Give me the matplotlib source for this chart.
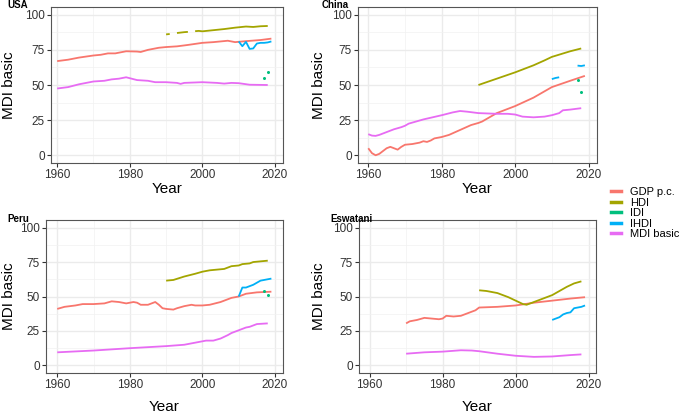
import numpy as np
import matplotlib.pyplot as plt
from matplotlib.lines import Line2D

plt.rcParams["font.family"] = ["Liberation Sans", "DejaVu Sans"]

nan = np.nan

SERIES = ["GDP p.c.", "HDI", "IDI", "IHDI", "MDI basic"]
COLORS = ["#F8766D", "#A3A500", "#00BF7D", "#00B0F6", "#E76BF3"]

# ── Data (year, value) ────────────────────────────────────────────────────────
usa_gdp = [(1960, 67), (1963, 68), (1966, 69.5), (1970, 71), (1972, 71.5), (1974, 72.5),
           (1976, 72.5), (1979, 74), (1982, 73.8), (1983, 73.5), (1985, 75), (1988, 76.5),
           (1990, 77), (1993, 77.5), (1996, 78.5), (2000, 80), (2003, 80.5), (2007, 81.5),
           (2009, 80.5), (2012, 81.2), (2016, 82), (2019, 83)]
usa_hdi = [(1990, 86), (1991, 86.3), (1992, nan), (1993, 87), (1994, 87.3), (1995, 87.6),
           (1996, 87.8), (1997, nan), (1998, 88.3), (1999, 88.5), (2000, 88.2), (2003, 89),
           (2006, 89.8), (2009, 90.8), (2012, 91.6), (2014, 91.3), (2016, 91.8), (2018, 92)]
usa_idi = [(2017, 55), (2018, 59)]
usa_ihdi = [(2010, 81), (2011, 77.6), (2012, 80.7), (2013, 75.7), (2014, 76), (2015, 79.5),
            (2016, 80), (2017, 80), (2018, 80.3), (2019, 81)]
usa_mdi = [(1960, 47.5), (1963, 48.5), (1966, 50.5), (1970, 52.5), (1973, 53), (1975, 54),
           (1977, 54.5), (1979, 55.5), (1982, 53.5), (1985, 53), (1987, 52), (1990, 52),
           (1993, 51.5), (1994, 50.8), (1995, 51.5), (2000, 52), (2004, 51.5), (2006, 51),
           (2008, 51.5), (2010, 51.3), (2013, 50.2), (2018, 50)]

china_gdp = [(1960, 5), (1961, 1.5), (1962, 0), (1963, 1), (1964, 3), (1965, 5), (1966, 6),
             (1967, 5), (1968, 4), (1969, 6), (1970, 7.5), (1972, 8), (1974, 9), (1975, 10),
             (1976, 9.5), (1977, 10.5), (1978, 12), (1980, 13), (1982, 14.5), (1985, 18),
             (1988, 21.5), (1990, 23), (1991, 24), (1993, 27), (1995, 30), (2000, 35),
             (2005, 41), (2008, 45.5), (2010, 48.5), (2015, 53), (2019, 56.5)]
china_hdi = [(1990, 50), (1995, 54.5), (2000, 59), (2005, 64), (2008, 67.5), (2010, 70),
             (2015, 74), (2018, 76)]
china_idi = [(2017, 53.5), (2018, 45)]
china_ihdi = [(2010, 54.2), (2011, 55), (2012, 55.5), (2013, nan), (2017, 63.8), (2018, 63.5),
              (2019, 64)]
china_mdi = [(1960, 15), (1961, 14), (1962, 13.8), (1963, 14.5), (1965, 16.5), (1967, 18.5),
             (1969, 20), (1970, 21), (1971, 22.5), (1975, 25.5), (1980, 28.5), (1983, 30.5),
             (1985, 31.5), (1987, 31), (1990, 30), (1995, 29.5), (1998, 29.5), (2000, 29),
             (2002, 27.5), (2005, 27), (2008, 27.5), (2010, 28.5), (2012, 30), (2013, 32),
             (2015, 32.5), (2018, 33.5)]

peru_gdp = [(1960, 41), (1962, 42.5), (1965, 43.5), (1967, 44.5), (1970, 44.5), (1973, 45),
            (1975, 46.5), (1977, 46), (1979, 45), (1981, 46), (1982, 45.5), (1983, 44),
            (1985, 44), (1987, 46), (1988, 44), (1989, 41.5), (1990, 41), (1992, 40.5),
            (1993, 41.5), (1995, 43), (1997, 44), (1998, 43.5), (2000, 43.5), (2002, 44),
            (2005, 46), (2008, 49), (2010, 50), (2012, 52), (2015, 53), (2019, 53.5)]
peru_hdi = [(1990, 61.5), (1992, 62), (1995, 64.5), (1998, 66.5), (2000, 68), (2002, 69),
            (2004, 69.5), (2006, 70), (2008, 72), (2010, 72.5), (2011, 73.5), (2013, 74),
            (2014, 75), (2016, 75.5), (2018, 76)]
peru_idi = [(2017, 54), (2018, 51)]
peru_ihdi = [(2010, 50), (2011, 56.5), (2012, 56.5), (2013, 57.5), (2014, 58.5), (2015, 60),
             (2016, 61.5), (2017, 62), (2018, 62.5), (2019, 63)]
peru_mdi = [(1960, 9.5), (1970, 10.8), (1980, 12.5), (1990, 14), (1995, 15), (1998, 16.5),
            (2000, 17.5), (2001, 18), (2003, 18), (2005, 19.5), (2007, 22), (2008, 23.5),
            (2010, 25.5), (2012, 27.5), (2013, 28), (2015, 30), (2018, 30.5)]

eswatani_gdp = [(1970, 30.5), (1971, 32), (1973, 33), (1975, 34.5), (1977, 34), (1979, 33.5),
                (1980, 34), (1981, 36), (1983, 35.5), (1985, 36), (1987, 38), (1989, 40),
                (1990, 42), (1995, 42.5), (2000, 43.5), (2005, 45.5), (2010, 47),
                (2015, 48.5), (2019, 49.5)]
eswatani_hdi = [(1990, 54.5), (1992, 54), (1995, 52.5), (1998, 49.5), (2000, 47), (2002, 44.5),
                (2003, 44), (2005, 46), (2008, 49), (2010, 51), (2012, 54), (2014, 57),
                (2016, 59.5), (2018, 61)]
eswatani_idi = []
eswatani_ihdi = [(2010, 33), (2011, 34), (2012, 35), (2013, 37), (2014, 38), (2015, 38.5),
                 (2016, 41.5), (2017, 42), (2018, 42.5), (2019, 43.5)]
eswatani_mdi = [(1970, 8.5), (1975, 9.5), (1980, 10), (1985, 11), (1988, 10.8), (1990, 10.3),
                (1995, 8.5), (2000, 7), (2005, 6.2), (2010, 6.5), (2015, 7.5), (2018, 8)]

# title, series in SERIES order, axes box in px (left, top, right, bottom), xlim,
# title x px, y-label centre x px
PANELS = [
    ("USA", [usa_gdp, usa_hdi, usa_idi, usa_ihdi, usa_mdi],
     (51, 7, 283, 163), (1958.3, 2022.2), 7, 9),
    ("China", [china_gdp, china_hdi, china_idi, china_ihdi, china_mdi],
     (358, 7, 597, 163), (1957.2, 2022.3), 322, 319),
    ("Peru", [peru_gdp, peru_hdi, peru_idi, peru_ihdi, peru_mdi],
     (46, 220, 283, 373), (1956.9, 2022.2), 7, 9),
    ("Eswatani", [eswatani_gdp, eswatani_hdi, eswatani_idi, eswatani_ihdi, eswatani_mdi],
     (359, 220, 596, 373), (1957.1, 2022.0), 330, 319),
]

W, H = 685, 416
fig = plt.figure(figsize=(W / 100, H / 100), dpi=100)

for title, series, (l, t, r, b), xlim, title_x, ylab_x in PANELS:
    ax = fig.add_axes([l / W, 1 - b / H, (r - l) / W, (b - t) / H])
    for data, name, color in zip(series, SERIES, COLORS):
        if not data:
            continue
        yrs, vals = zip(*data)
        if name == "IDI":
            ax.plot(yrs, vals, "o", color=color, markersize=2.2, markeredgewidth=0)
        else:
            ax.plot(yrs, vals, color=color, linewidth=1.3, solid_capstyle="butt")

    ax.set_xlim(*xlim)
    ax.set_ylim(-5.5, 105.5)
    ax.set_xticks([1960, 1980, 2000, 2020])
    ax.set_xticks([1970, 1990, 2010], minor=True)
    ax.set_yticks([0, 25, 50, 75, 100])
    ax.set_yticks([12.5, 37.5, 62.5, 87.5], minor=True)
    ax.grid(which="major", color="#EBEBEB", linewidth=1.0)
    ax.grid(which="minor", color="#F2F2F2", linewidth=0.5)
    ax.set_axisbelow(True)
    ax.tick_params(which="major", length=3, width=0.8, color="#333333",
                   labelsize=8.5, labelcolor="#333333", pad=1.5)
    ax.tick_params(which="minor", length=0)
    for s in ax.spines.values():
        s.set_color("#555555")
        s.set_linewidth(0.8)

    ax.set_xlabel("Year", fontsize=11, color="black")
    ax.xaxis.set_label_coords(0.5, -0.12 if t < 100 else -0.175)
    fig.text(ylab_x / W, 1 - (t + b) / 2 / H, "MDI basic", rotation=90,
             fontsize=11, ha="center", va="center")
    fig.text(title_x / W, 1 - (t - 1.5) / H, title,
             fontsize=7, fontweight="bold", ha="left", va="center")

handles = [Line2D([], [], color=c, linewidth=2.5) for c in COLORS]
fig.legend(handles, SERIES, loc="upper left", bbox_to_anchor=(611 / W, 1 - 187 / H),
           frameon=False, fontsize=8, handlelength=0.9, handletextpad=0.8,
           labelspacing=0.05, borderpad=0, borderaxespad=0)

fig.savefig("out.png", dpi=100)
